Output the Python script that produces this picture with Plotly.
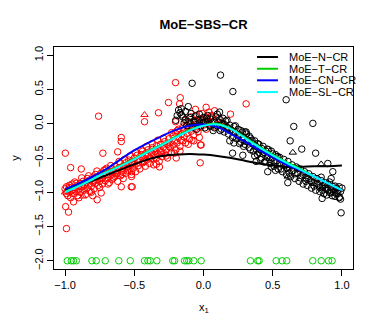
import plotly.graph_objects as go

# values
red_points = [
    (-1.00, -0.95), (-0.99, -1.02), (-0.99, -0.92), (-0.98, -1.05), (-0.98, -0.98), (-0.97, -0.90),
    (-0.97, -1.00), (-0.96, -0.94), (-0.96, -1.08), (-0.95, -0.97), (-0.95, -0.88), (-0.94, -1.02),
    (-0.93, -0.93), (-0.93, -0.85), (-0.92, -0.99), (-0.91, -0.90), (-0.91, -1.05), (-0.90, -0.95),
    (-0.89, -0.87), (-0.89, -1.00), (-0.88, -0.92), (-0.87, -0.84), (-0.87, -0.97), (-0.86, -0.90),
    (-0.85, -1.03), (-0.85, -0.86), (-0.84, -0.80), (-0.84, -0.94), (-0.83, -0.88), (-0.82, -0.99),
    (-0.82, -0.82), (-0.81, -0.91), (-0.80, -0.85), (-0.80, -0.78), (-0.79, -0.95), (-0.78, -0.87),
    (-0.78, -0.74), (-0.77, -0.82), (-0.76, -0.90), (-0.76, -0.77), (-0.75, -0.84), (-0.74, -0.72),
    (-0.74, -0.80), (-0.73, -0.88), (-0.72, -0.76), (-0.72, -0.68), (-0.71, -0.83), (-0.70, -0.74),
    (-0.70, -0.65), (-0.69, -0.79), (-0.68, -0.70), (-0.68, -0.86), (-0.67, -0.75), (-0.66, -0.66),
    (-0.66, -0.81), (-0.65, -0.71), (-0.64, -0.62), (-0.64, -0.77), (-0.63, -0.68), (-0.62, -0.84),
    (-0.62, -0.72), (-0.61, -0.64), (-0.60, -0.58), (-0.60, -0.76), (-0.59, -0.69), (-0.58, -0.62),
    (-0.58, -0.80), (-0.57, -0.66), (-0.56, -0.57), (-0.56, -0.72), (-0.55, -0.63), (-0.54, -0.68),
    (-0.54, -0.53), (-0.53, -0.60), (-0.52, -0.74), (-0.52, -0.56), (-0.51, -0.65), (-0.50, -0.50),
    (-0.50, -0.59), (-0.49, -0.70), (-0.48, -0.54), (-0.48, -0.46), (-0.47, -0.61), (-0.46, -0.52),
    (-0.46, -0.66), (-0.45, -0.45), (-0.44, -0.57), (-0.44, -0.40), (-0.43, -0.50), (-0.42, -0.62),
    (-0.42, -0.44), (-0.41, -0.53), (-0.40, -0.38), (-0.40, -0.47), (-0.39, -0.58), (-0.38, -0.42),
    (-0.38, -0.51), (-0.37, -0.35), (-0.36, -0.46), (-0.36, -0.60), (-0.35, -0.40), (-0.34, -0.50),
    (-0.34, -0.32), (-0.33, -0.44), (-0.32, -0.37), (-0.32, -0.55), (-0.31, -0.30), (-0.30, -0.42),
    (-0.30, -0.48), (-0.29, -0.34), (-0.28, -0.26), (-0.28, -0.44), (-0.27, -0.38), (-0.26, -0.30),
    (-0.26, -0.50), (-0.25, -0.22), (-0.24, -0.35), (-0.24, -0.28), (-0.23, -0.42), (-0.22, -0.18),
    (-0.22, -0.31), (-0.21, -0.25), (-0.20, -0.38), (-0.20, -0.14), (-0.19, -0.28), (-0.18, -0.20),
    (-0.18, -0.08), (-0.17, -0.33), (-0.16, -0.15), (-0.16, -0.24), (-0.15, -0.05), (-0.14, -0.19),
    (-0.14, -0.10), (-0.13, -0.28), (-0.12, -0.02), (-0.12, -0.14), (-0.11, -0.08), (-0.10, -0.22),
    (-0.10, 0.02), (-0.09, -0.11), (-0.08, -0.04), (-0.07, -0.16), (-0.06, 0.05), (-0.06, -0.07),
    (-0.05, -0.01), (-0.04, -0.12), (-0.03, 0.04), (-0.02, -0.05), (-0.01, 0.08), (0.00, -0.02),
    (0.01, 0.03), (0.02, -0.08), (0.03, 0.06), (0.04, 0.00), (0.05, 0.10), (0.07, 0.03),
    (0.09, -0.05), (0.11, 0.08), (0.13, 0.01), (0.15, -0.03),
    (-0.97, -0.93), (-0.94, -0.96), (-0.92, -0.87), (-0.90, -1.08), (-0.88, -0.79), (-0.86, -0.97),
    (-0.83, -0.76), (-0.81, -1.00), (-0.79, -0.83), (-0.77, -0.69), (-0.75, -0.93), (-0.73, -0.79),
    (-0.71, -0.67), (-0.69, -0.88), (-0.67, -0.61), (-0.65, -0.79), (-0.63, -0.73), (-0.61, -0.55),
    (-0.59, -0.74), (-0.57, -0.52), (-0.55, -0.69), (-0.53, -0.47), (-0.51, -0.58), (-0.49, -0.42),
    (-0.47, -0.56), (-0.45, -0.38), (-0.43, -0.55), (-0.41, -0.33), (-0.39, -0.50), (-0.37, -0.29),
    (-0.35, -0.45), (-0.33, -0.24), (-0.31, -0.41), (-0.29, -0.21), (-0.27, -0.47), (-0.25, -0.33),
    (-0.23, -0.13), (-0.21, -0.43), (-0.19, -0.10), (-0.17, -0.40), (-0.15, -0.25), (-0.13, 0.05),
    (-0.11, -0.30), (-0.09, 0.10), (-0.07, -0.25), (-0.05, 0.12), (-0.03, -0.20), (-0.01, 0.15),
    (0.02, 0.10), (0.04, 0.17), (0.06, 0.12), (0.08, 0.19),
    # outliers
    (-0.758, 0.11), (-0.998, -0.43), (-0.96, -0.64), (-0.883, -0.66), (-0.727, -0.43), (-0.594, -0.20),
    (-0.594, -0.26), (-0.62, -0.41), (-0.996, -1.21), (-0.975, -1.29), (-0.939, -1.14), (-0.768, -1.11),
    (-0.80, -1.05), (-0.739, -1.01), (-0.594, -0.92), (-0.522, -0.92), (-0.99, -1.53), (-0.202, 0.60),
    (-0.168, 0.38), (-0.173, 0.29), (-0.253, 0.31), (-0.325, 0.16), (-0.426, 0.03), (-0.202, 0.03),
    (-0.058, 0.21), (0.019, 0.24), (-0.084, -0.24), (-0.022, -0.31), (-0.024, -0.57), (-0.197, -0.50),
    (-0.318, -0.63), (-0.34, -0.59), (-0.515, -0.92), (-0.52, -0.77), (-0.52, -0.70), (0.308, 0.29),
    (0.195, 0.14), (-0.017, -0.31),
]
red_triangles = [(-0.426, 0.13), (-1.00, -1.00), (-0.87, -1.06)]

black_points = [
    (-0.20, 0.05), (-0.19, 0.12), (-0.18, 0.20), (-0.17, 0.16), (-0.16, 0.22), (-0.15, 0.10),
    (-0.14, 0.01), (-0.13, 0.06), (-0.12, -0.03), (-0.11, 0.03), (-0.10, 0.09), (-0.09, 0.00),
    (-0.08, -0.05), (-0.07, 0.04), (-0.06, 0.02), (-0.05, -0.08), (-0.04, 0.06), (-0.03, 0.01),
    (-0.02, -0.03), (-0.01, 0.05), (0.00, 0.02), (0.01, -0.06), (0.02, 0.08), (0.03, 0.03),
    (0.04, -0.02), (0.05, 0.07), (0.06, 0.01), (0.07, -0.10), (0.08, 0.04), (0.09, 0.10),
    (0.10, -0.03), (0.11, 0.02), (0.12, 0.06), (0.13, -0.08), (0.14, 0.00), (0.15, -0.12),
    (0.16, 0.04), (0.17, -0.05), (0.18, -0.15), (0.19, -0.02), (0.20, -0.09), (0.21, -0.20),
    (0.22, -0.04), (0.23, -0.13), (0.24, -0.22), (0.25, -0.08), (0.26, -0.17), (0.27, -0.27),
    (0.28, -0.12), (0.29, -0.20), (0.30, -0.30), (0.31, -0.15), (0.32, -0.24), (0.33, -0.35),
    (0.34, -0.21), (0.35, -0.28), (0.36, -0.40), (0.37, -0.25), (0.38, -0.33), (0.39, -0.45),
    (0.40, -0.30), (0.41, -0.38), (0.42, -0.50), (0.43, -0.33), (0.44, -0.42), (0.45, -0.55),
    (0.46, -0.37), (0.47, -0.46), (0.48, -0.58), (0.49, -0.40), (0.50, -0.50), (0.51, -0.62),
    (0.52, -0.45), (0.53, -0.54), (0.54, -0.66), (0.55, -0.49), (0.56, -0.58), (0.57, -0.70),
    (0.58, -0.52), (0.59, -0.61), (0.60, -0.74), (0.61, -0.55), (0.62, -0.64), (0.63, -0.77),
    (0.64, -0.60), (0.65, -0.68), (0.66, -0.80), (0.67, -0.63), (0.68, -0.72), (0.69, -0.84),
    (0.70, -0.66), (0.71, -0.76), (0.72, -0.88), (0.73, -0.70), (0.74, -0.79), (0.75, -0.90),
    (0.76, -0.73), (0.77, -0.83), (0.78, -0.94), (0.79, -0.77), (0.80, -0.86), (0.81, -0.97),
    (0.82, -0.80), (0.83, -0.89), (0.84, -0.99), (0.85, -0.83), (0.86, -0.92), (0.87, -1.02),
    (0.88, -0.86), (0.89, -0.95), (0.90, -0.89), (0.91, -1.00), (0.92, -0.93), (0.93, -1.05),
    (0.94, -0.96), (0.95, -0.91), (0.96, -1.02), (0.97, -0.97), (0.98, -1.08), (0.99, -0.99),
    (1.00, -0.94),
    (-0.16, 0.13), (-0.13, 0.18), (-0.11, 0.25), (-0.09, 0.15), (-0.06, 0.11), (-0.03, 0.14),
    (0.00, 0.09), (0.03, 0.12), (0.05, -0.04), (0.08, -0.06), (0.10, 0.14), (0.12, -0.10),
    (0.14, 0.08), (0.15, -0.01), (0.17, 0.05), (0.18, -0.07), (0.19, -0.25), (0.21, -0.11),
    (0.22, -0.28), (0.23, -0.03), (0.25, -0.18), (0.26, -0.29), (0.27, -0.10), (0.28, -0.23),
    (0.29, -0.33), (0.30, -0.12), (0.31, -0.26), (0.33, -0.18), (0.34, -0.38), (0.35, -0.24),
    (0.36, -0.30), (0.37, -0.47), (0.38, -0.37), (0.39, -0.29), (0.40, -0.42), (0.41, -0.52),
    (0.42, -0.36), (0.43, -0.44), (0.44, -0.56), (0.45, -0.40), (0.46, -0.49), (0.47, -0.38),
    (0.48, -0.52), (0.49, -0.63), (0.50, -0.44), (0.51, -0.55), (0.52, -0.68), (0.53, -0.48),
    (0.55, -0.57), (0.56, -0.66), (0.58, -0.59), (0.60, -0.64), (0.62, -0.72), (0.64, -0.69),
    (0.66, -0.73), (0.68, -0.65), (0.70, -0.79), (0.72, -0.74), (0.74, -0.84), (0.76, -0.80),
    (0.78, -0.85), (0.80, -0.91), (0.82, -0.87), (0.84, -0.93), (0.85, -0.78), (0.86, -0.97),
    (0.87, -0.90), (0.88, -0.94), (0.89, -1.04), (0.90, -0.97), (0.91, -0.85), (0.92, -1.01),
    (0.93, -0.91), (0.94, -1.00), (0.95, -1.06), (0.96, -0.94), (0.97, -1.01), (0.98, -0.92),
    (0.99, -1.10),
    # outliers
    (-0.082, 0.59), (0.123, 0.71), (0.212, 0.47), (0.597, 0.35), (0.79, 0.005), (0.652, -0.04),
    (0.626, -0.25), (0.71, -0.37), (0.81, -0.43), (0.898, -0.58), (0.934, -0.70), (0.922, -0.80),
    (0.857, -1.09), (0.994, -1.30), (0.982, -1.07), (0.609, -0.86), (0.116, 0.17), (0.284, -0.46),
    (0.308, -0.12), (0.21, -0.43), (0.464, -0.70), (0.536, -0.48), (0.38, -0.55),
]
black_triangles = [(0.85, -0.59), (0.609, -0.77), (0.645, -0.42)]

green_x = [-0.984, -0.955, -0.939, -0.919, -0.806, -0.775, -0.710, -0.612, -0.529, -0.426,
           -0.402, -0.385, -0.337, -0.222, -0.209, -0.137, -0.121, -0.106, -0.070, -0.017,
           0.339, 0.392, 0.402, 0.525, 0.568, 0.601, 0.789, 0.850, 0.903, 0.929]
green_level = -2.0

curve_x = [-1.0, -0.9, -0.8, -0.7, -0.6, -0.5, -0.4, -0.3, -0.2, -0.1, 0.0,
           0.1, 0.2, 0.3, 0.4, 0.5, 0.6, 0.7, 0.8, 0.9, 1.0]
fit_n = [-0.97, -0.90, -0.83, -0.75, -0.67, -0.59, -0.52, -0.47, -0.45, -0.44, -0.45,
         -0.47, -0.50, -0.54, -0.58, -0.61, -0.63, -0.63, -0.62, -0.62, -0.61]
fit_t = [-0.99, -0.90, -0.80, -0.70, -0.61, -0.51, -0.40, -0.30, -0.19, -0.09, -0.02,
         0.00, -0.07, -0.20, -0.33, -0.45, -0.56, -0.66, -0.77, -0.87, -0.97]
fit_cn = [-0.955, -0.87, -0.77, -0.66, -0.52, -0.39, -0.28, -0.18, -0.09, -0.03, -0.01,
          -0.05, -0.15, -0.26, -0.38, -0.49, -0.60, -0.68, -0.77, -0.87, -0.975]
fit_sl = [-1.00, -0.91, -0.81, -0.71, -0.62, -0.52, -0.41, -0.31, -0.20, -0.10, -0.03,
          -0.01, -0.08, -0.21, -0.34, -0.46, -0.57, -0.67, -0.77, -0.87, -0.97]

legend_names = ["MoE−N−CR", "MoE−T−CR", "MoE−CN−CR", "MoE−SL−CR"]
legend_colors = ["#000000", "#00CD00", "#0000FF", "#00FFFF"]

FONT = "Liberation Sans, Arial, Helvetica, sans-serif"

fig = go.Figure()

def pts(name, points, color, symbol):
    fig.add_trace(go.Scatter(
        x=[p[0] for p in points], y=[p[1] for p in points], mode="markers", name=name,
        marker=dict(symbol=symbol, size=6.5, color=color, line=dict(color=color, width=1)),
        showlegend=False))

pts("red", red_points, "#FF0000", "circle-open")
pts("red_tri", red_triangles, "#FF0000", "triangle-up-open")
pts("black", black_points, "#000000", "circle-open")
pts("black_tri", black_triangles, "#000000", "triangle-up-open")
fig.add_trace(go.Scatter(
    x=green_x, y=[green_level] * len(green_x), mode="markers",
    marker=dict(symbol="circle-open", size=6.5, color="#00CD00", line=dict(color="#00CD00", width=1)),
    showlegend=False))

for name, ys, col in zip(legend_names, [fit_n, fit_t, fit_cn, fit_sl], legend_colors):
    fig.add_trace(go.Scatter(x=curve_x, y=ys, mode="lines", name=name,
                             line=dict(color=col, width=2, shape="spline"), showlegend=False))

# legend drawn by hand, R style (no frame, short line samples)
leg_y = [0.955, 0.902, 0.850, 0.797]
for name, col, ly in zip(legend_names, legend_colors, leg_y):
    fig.add_shape(type="line", xref="paper", yref="paper", x0=0.679, x1=0.749, y0=ly, y1=ly,
                  line=dict(color=col, width=2))
    fig.add_annotation(xref="paper", yref="paper", x=0.779, y=ly, text=name, showarrow=False,
                       xanchor="left", yanchor="middle", font=dict(size=11, color="black"))

fig.add_annotation(xref="paper", yref="paper", x=0.5, y=-0.175, text="x<sub>1</sub>",
                   showarrow=False, xanchor="center", yanchor="middle", font=dict(size=11))
fig.add_annotation(xref="paper", yref="paper", x=-0.131, y=0.5, text="y", textangle=-90,
                   showarrow=False, xanchor="center", yanchor="middle", font=dict(size=11))

axis_common = dict(showgrid=False, zeroline=False, showline=True, mirror=True, linecolor="black",
                   linewidth=1, ticks="outside", ticklen=6, tickcolor="black", tickwidth=1,
                   tickfont=dict(size=11, color="black"))

# the page body adds an 8px offset, so the figure is 8px smaller and margins shifted
fig.update_layout(
    width=374, height=319,
    margin=dict(l=46, r=29, t=39, b=58),
    paper_bgcolor="white", plot_bgcolor="white",
    font=dict(family=FONT, color="black"),
    title=dict(text="<b>MoE−SBS−CR</b>", xref="paper", x=0.5, xanchor="center",
               y=0.95, yanchor="middle", font=dict(size=13)),
    xaxis=dict(range=[-1.08, 1.08], tickvals=[-1, -0.5, 0, 0.5, 1],
               ticktext=["−1.0", "−0.5", "0.0", "0.5", "1.0"], **axis_common),
    yaxis=dict(range=[-2.12, 1.12], tickvals=[-2, -1.5, -1, -0.5, 0, 0.5, 1],
               ticktext=["−2.0", "−1.5", "−1.0", "−0.5", "0.0", "0.5", "1.0"], tickangle=-90,
               **axis_common),
)

fig.write_html("out.html")
